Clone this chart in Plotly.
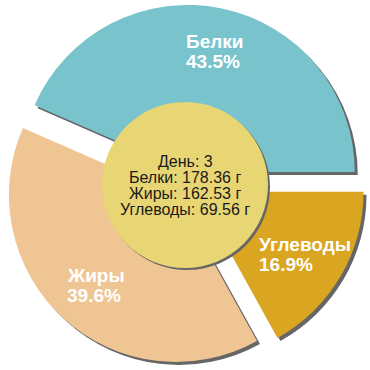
import math
import plotly.graph_objects as go

labels = ["Белки", "Жиры", "Углеводы"]
values = [178.36, 162.53, 69.56]
colors = ["#78C3CC", "#EEC593", "#DAA520"]
day = 3
unit = "г"

W = H = 370
font = "Liberation Sans, Arial, sans-serif"
pull = 0.08
shadow = "#666666"
C = 185.0          # pie centre (px)
HALF = 180.4       # half size of pie domain (px)
SH = 3.0           # shadow offset (px)

total = sum(values)
fracs = [v / total for v in values]
# first slice runs counter-clockwise from 3 o'clock
rotation = 90 - 360 * fracs[0]


def dom(x0, x1, ytop0, ytop1):
    return dict(x=[x0 / W, x1 / W], y=[1 - ytop1 / H, 1 - ytop0 / H])


fig = go.Figure()
fig.add_trace(go.Pie(
    labels=labels, values=values, sort=False, direction="counterclockwise",
    rotation=rotation, pull=[pull] * 3,
    marker=dict(colors=[shadow] * 3, line=dict(width=0)),
    textinfo="none", hoverinfo="skip", showlegend=False,
    domain=dom(C - HALF + SH, C + HALF + SH, C - HALF + SH, C + HALF + SH),
))
fig.add_trace(go.Pie(
    labels=labels, values=values, sort=False, direction="counterclockwise",
    rotation=rotation, pull=[pull] * 3,
    marker=dict(colors=colors, line=dict(width=0)),
    textinfo="none", showlegend=False,
    domain=dom(C - HALF, C + HALF, C - HALF, C + HALF),
))

r = HALF / (1 + pull)
annotations = []
lsize = 19
start = 0.0
for lab, f in zip(labels, fracs):
    mid = math.radians((start + f / 2) * 360)
    start += f
    d = r * pull + 0.735 * r
    bx = C + d * math.cos(mid)
    by = C - d * math.sin(mid)
    lines = [lab, f"{f*100:.1f}%"]
    left = bx - 0.3 * lsize * max(len(t) for t in lines)
    for i, t in enumerate(lines):
        yy = by + (i - 0.5) * 20
        annotations.append(dict(
            x=left / W, y=1 - yy / H, xref="paper", yref="paper", showarrow=False,
            text=f"<b>{t}</b>", xanchor="left", yanchor="middle",
            font=dict(family=font, size=lsize, color="white"),
        ))

center_lines = [f"День: {day}"] + [f"{lab}: {v:.2f} {unit}" for lab, v in zip(labels, values)]
n = len(center_lines)
for i, t in enumerate(center_lines):
    yy = C + (i - (n - 1) / 2) * 16
    annotations.append(dict(
        x=C / W, y=1 - yy / H, xref="paper", yref="paper", showarrow=False,
        text=t, xanchor="center", yanchor="middle",
        font=dict(family=font, size=16, color="#1a1a1a"),
    ))

CR = 83.0
shapes = [
    dict(type="circle", xref="paper", yref="paper",
         x0=(C - CR + 2) / W, x1=(C + CR + 2) / W,
         y0=1 - (C + CR + 2) / H, y1=1 - (C - CR + 2) / H,
         fillcolor=shadow, line=dict(width=0)),
    dict(type="circle", xref="paper", yref="paper",
         x0=(C - CR) / W, x1=(C + CR) / W,
         y0=1 - (C + CR) / H, y1=1 - (C - CR) / H,
         fillcolor="#E8D574", line=dict(width=0)),
]

fig.update_layout(
    width=W, height=H, margin=dict(l=0, r=0, t=0, b=0),
    paper_bgcolor="white", plot_bgcolor="white",
    annotations=annotations, shapes=shapes,
    font=dict(family=font),
)
fig.write_html("out.html", config={"displayModeBar": False},
               post_script="document.body.style.margin='0';document.body.style.overflow='hidden';")
